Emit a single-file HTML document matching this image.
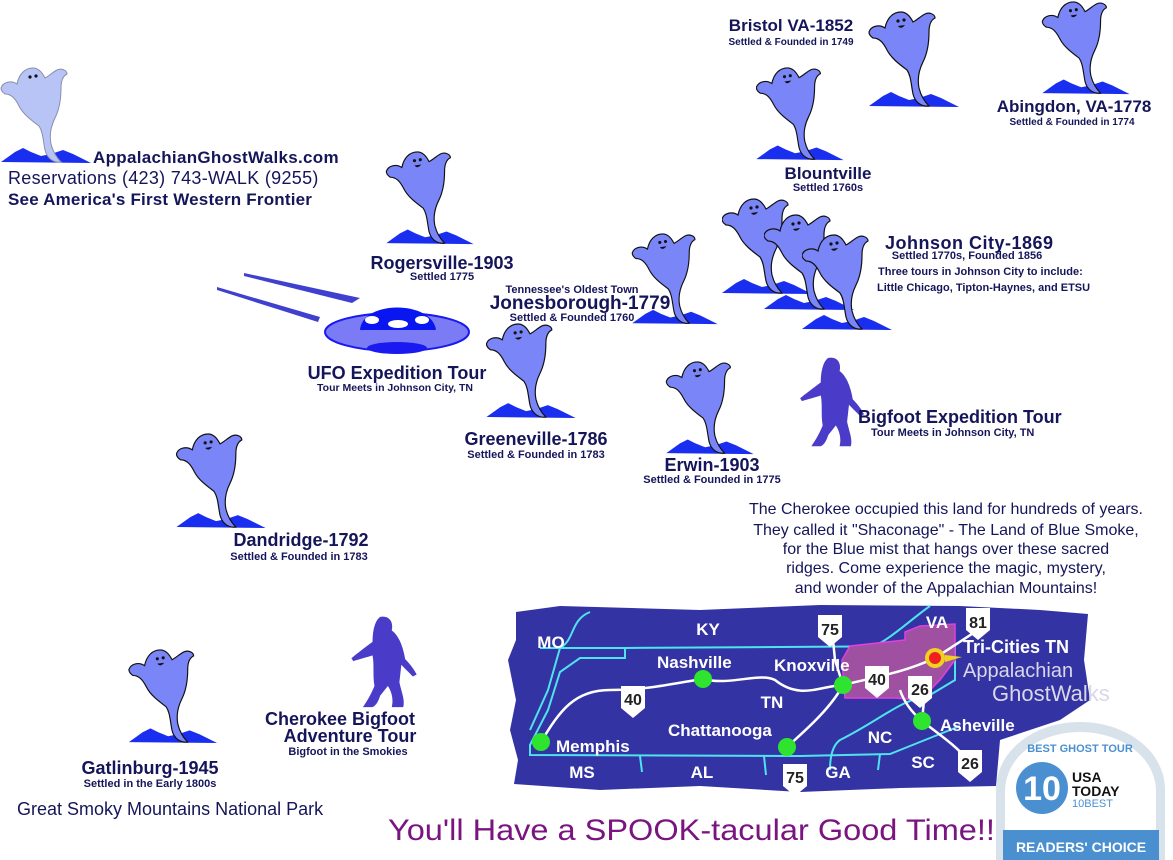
<!DOCTYPE html>
<html><head><meta charset="utf-8"><style>
html,body{margin:0;padding:0;background:#fff;}
svg{display:block;}
text{font-family:"Liberation Sans",sans-serif;fill:#15155a;font-weight:bold;}
.t{font-size:18px;text-anchor:middle;}
.s{font-size:11px;text-anchor:middle;}
.m{fill:#fff;font-size:17px;font-weight:bold;}
.st{fill:#fff;font-size:17px;font-weight:bold;text-anchor:middle;}
</style></head><body>
<svg width="1173" height="860" viewBox="0 0 1173 860" xmlns="http://www.w3.org/2000/svg">
<defs>
<symbol id="g" viewBox="0 0 90 100">
<path d="M0,96 L14,86 L22,82 L30,86 L40,90 L50,88 L62,84 L72,88 L90,97 Z" fill="#1a2ef0"/>
<path d="M0,22 C2,16 10,14 16,18 C18,8 24,2 32,2 C38,2 42,8 44,12 C48,10 52,6 56,4 C60,2 66,4 66,8 C62,10 60,14 60,22 C60,34 58,44 54,52 C50,60 48,68 50,78 C52,86 56,92 60,96 C52,97 46,92 44,84 C42,74 42,66 38,60 C30,54 22,48 18,40 C14,32 10,28 4,28 C1,26 0,24 0,22 Z" fill="#7a86f8" stroke="#111" stroke-width="1.2"/>
<circle cx="29" cy="11" r="1.6" fill="#111"/><circle cx="35" cy="10" r="1.6" fill="#111"/>
<path d="M29,16 Q32,20 36,15" fill="#111"/>
</symbol>
<symbol id="gl" viewBox="0 0 90 100">
<path d="M0,96 L14,86 L22,82 L30,86 L40,90 L50,88 L62,84 L72,88 L90,97 Z" fill="#1a2ef0"/>
<path d="M0,22 C2,16 10,14 16,18 C18,8 24,2 32,2 C38,2 42,8 44,12 C48,10 52,6 56,4 C60,2 66,4 66,8 C62,10 60,14 60,22 C60,34 58,44 54,52 C50,60 48,68 50,78 C52,86 56,92 60,96 C52,97 46,92 44,84 C42,74 42,66 38,60 C30,54 22,48 18,40 C14,32 10,28 4,28 C1,26 0,24 0,22 Z" fill="#b8c4f6" stroke="#8890aa" stroke-width="1"/>
<circle cx="29" cy="11" r="1.6" fill="#111"/><circle cx="35" cy="10" r="1.6" fill="#111"/>
</symbol>
<symbol id="bf" viewBox="0 0 70 100">
<path d="M30,2 C40,0 44,8 42,16 C50,22 54,34 56,46 C62,52 66,58 68,62 L64,64 C58,58 54,54 52,52 L50,70 C52,80 56,88 54,96 L42,96 C44,88 42,80 38,74 L30,84 C28,90 26,94 22,96 L12,96 C16,90 20,84 24,74 C22,62 24,52 22,42 C16,44 8,46 2,48 L0,45 C6,40 14,34 22,28 C22,18 24,6 30,2 Z" fill="#4a3cc8"/>
</symbol>
</defs>

<use href="#gl" x="0" y="66" width="92" height="100"/>
<use href="#g" x="385" y="150" width="90" height="97"/>
<use href="#g" x="868" y="10" width="92" height="100"/>
<use href="#g" x="1040" y="0" width="92" height="97"/>
<use href="#g" x="756" y="66" width="88" height="97"/>
<use href="#g" x="722" y="197" width="90" height="100"/>
<use href="#g" x="764" y="213" width="90" height="100"/>
<use href="#g" x="802" y="233" width="90" height="100"/>
<use href="#g" x="630" y="232" width="90" height="95"/>
<use href="#g" x="486" y="322" width="90" height="99"/>
<use href="#g" x="665" y="360" width="90" height="97"/>
<use href="#g" x="176" y="432" width="90" height="99"/>
<use href="#g" x="128" y="648" width="90" height="98"/>

<use href="#bf" x="800" y="356" width="66" height="94"/>
<use href="#bf" x="344" y="615" width="82" height="96"/>

<polygon points="244,273 360,298 352,303 244,276" fill="#4040d0"/>
<polygon points="217,287 320,317 318,322 217,290" fill="#4040d0"/>
<ellipse cx="397" cy="332" rx="72" ry="19" fill="#7b7bf6" stroke="#1a1af0" stroke-width="2"/>
<path d="M360,330 C362,300 432,300 436,330 Z" fill="#0a16f0"/>
<ellipse cx="397" cy="348" rx="30" ry="6" fill="#1a1af0"/>
<ellipse cx="372" cy="320" rx="7" ry="4" fill="#fff"/><ellipse cx="398" cy="324" rx="10" ry="4" fill="#fff"/><ellipse cx="422" cy="320" rx="7" ry="4" fill="#fff"/>

<text x="93" y="163" style="font-size:17px;letter-spacing:0.3px">AppalachianGhostWalks.com</text>
<text x="8" y="184" style="font-size:18px;font-weight:normal;letter-spacing:0.3px">Reservations (423) 743-WALK (9255)</text>
<text x="8" y="205" style="font-size:17px;letter-spacing:0.2px">See America's First Western Frontier</text>

<text class="t" x="791" y="31" style="font-size:17px">Bristol VA-1852</text>
<text class="s" x="791" y="45" style="font-size:10px">Settled &amp; Founded in 1749</text>
<text class="t" x="1074" y="112" style="font-size:17px">Abingdon, VA-1778</text>
<text class="s" x="1072" y="125" style="font-size:10px">Settled &amp; Founded in 1774</text>
<text class="t" x="828" y="179" style="font-size:17px">Blountville</text>
<text class="s" x="828" y="191">Settled 1760s</text>
<text x="885" y="249" style="font-size:18px;letter-spacing:0.5px">Johnson City-1869</text>
<text class="s" x="967" y="259">Settled 1770s, Founded 1856</text>
<text x="878" y="275" style="font-size:11px">Three tours in Johnson City to include:</text>
<text x="877" y="291" style="font-size:11px">Little Chicago, Tipton-Haynes, and ETSU</text>
<text class="t" x="442" y="269">Rogersville-1903</text>
<text class="s" x="442" y="280">Settled 1775</text>
<text class="s" x="572" y="293">Tennessee's Oldest Town</text>
<text class="t" x="580" y="309" style="font-size:19px">Jonesborough-1779</text>
<text class="s" x="572" y="321">Settled &amp; Founded 1760</text>
<text class="t" x="397" y="379">UFO Expedition Tour</text>
<text class="s" x="395" y="391" style="font-size:10.5px">Tour Meets in Johnson City, TN</text>
<text class="t" x="536" y="445">Greeneville-1786</text>
<text class="s" x="536" y="458">Settled &amp; Founded in 1783</text>
<text class="t" x="712" y="471">Erwin-1903</text>
<text class="s" x="712" y="483">Settled &amp; Founded in 1775</text>
<text x="858" y="423" style="font-size:18px">Bigfoot Expedition Tour</text>
<text x="871" y="436" style="font-size:11px">Tour Meets in Johnson City, TN</text>
<g style="font-size:16px;text-anchor:middle">
<text x="946" y="514" style="font-weight:normal">The Cherokee occupied this land for hundreds of years.</text>
<text x="946" y="535" style="font-weight:normal">They called it "Shaconage" - The Land of Blue Smoke,</text>
<text x="946" y="554" style="font-weight:normal">for the Blue mist that hangs over these sacred</text>
<text x="946" y="573" style="font-weight:normal">ridges. Come experience the magic, mystery,</text>
<text x="946" y="593" style="font-weight:normal">and wonder of the Appalachian Mountains!</text>
</g>
<text class="t" x="301" y="546">Dandridge-1792</text>
<text class="s" x="299" y="560">Settled &amp; Founded in 1783</text>
<text class="t" x="340" y="725">Cherokee Bigfoot</text>
<text class="t" x="350" y="742">Adventure Tour</text>
<text class="s" x="348" y="755">Bigfoot in the Smokies</text>
<text class="t" x="150" y="774">Gatlinburg-1945</text>
<text class="s" x="150" y="787">Settled in the Early 1800s</text>
<text x="17" y="815" style="font-size:18px;font-weight:normal">Great Smoky Mountains National Park</text>
<text x="388" y="840" textLength="616" lengthAdjust="spacingAndGlyphs" style="font-family:'Liberation Sans Narrow','Liberation Sans',sans-serif;font-size:30px;font-weight:normal;fill:#7a1480">You'll Have a SPOOK-tacular Good Time!!!</text>

<!-- map -->
<path d="M516,612 L560,606 L700,610 L820,605 L960,606 L1040,610 L1088,614 L1084,660 L1090,700 L1060,720 L1000,740 L996,786 L900,788 L800,792 L700,786 L600,790 L514,784 L518,760 L510,730 L516,700 L508,660 L516,640 Z" fill="#3333a3"/>
<g fill="none" stroke="#4fe3f0" stroke-width="2">
<path d="M540,648 L625,648 L625,658 L580,658 L560,672 L548,710 L530,745 L530,755 L800,756 L890,754 L920,742 L960,726"/>
<path d="M625,648 L920,646 L955,646 L955,680 L930,695"/>
<path d="M590,612 C570,620 575,640 560,648 L548,690 L530,730"/>
<path d="M930,606 C910,620 890,640 870,648"/>
<path d="M930,695 C900,700 880,720 840,740 C833,745 830,755 830,770"/>
<path d="M640,756 L642,772 M764,756 L766,775 M880,754 L878,770"/>
</g>
<path d="M905,632 L920,626 L955,624 L955,660 L940,680 L920,700 L895,698 L845,698 L842,660 L850,646 L905,640 Z" fill="#a050a0" stroke="#e040e0" stroke-width="1.5"/>
<g fill="none" stroke="#fff" stroke-width="2.5">
<path d="M541,742 C560,710 575,690 610,690 C650,690 680,682 703,679 C730,686 760,672 775,680 C800,700 820,686 843,685 C880,676 905,672 935,658 L978,630"/>
<path d="M843,685 C830,710 800,735 787,747"/>
<path d="M843,685 L835,660 L832,630"/>
<path d="M900,690 C905,705 915,715 922,721 C940,735 955,745 968,760"/>
<path d="M922,721 L925,690"/>
</g>
<g fill="#2ee42e"><circle cx="541" cy="742" r="9"/><circle cx="703" cy="679" r="9"/><circle cx="843" cy="685" r="9"/><circle cx="787" cy="747" r="9"/><circle cx="922" cy="721" r="9"/></g>
<circle cx="935" cy="658" r="10" fill="#f0d020"/><circle cx="935" cy="658" r="6" fill="#f02020"/>
<polygon points="945,655 962,657 945,662" fill="#f0d020"/>
<g>
<path d="M818,615 h24 v22 l-12,10 l-12,-10 Z" fill="#fff"/><text x="830" y="635" style="font-size:16px;text-anchor:middle;fill:#222">75</text>
<path d="M966,608 h24 v22 l-12,10 l-12,-10 Z" fill="#fff"/><text x="978" y="628" style="font-size:16px;text-anchor:middle;fill:#222">81</text>
<path d="M621,686 h24 v22 l-12,10 l-12,-10 Z" fill="#fff"/><text x="633" y="705" style="font-size:16px;text-anchor:middle;fill:#222">40</text>
<path d="M865,666 h24 v22 l-12,10 l-12,-10 Z" fill="#fff"/><text x="877" y="685" style="font-size:16px;text-anchor:middle;fill:#222">40</text>
<path d="M908,676 h24 v22 l-12,10 l-12,-10 Z" fill="#fff"/><text x="920" y="695" style="font-size:16px;text-anchor:middle;fill:#222">26</text>
<path d="M783,764 h24 v22 l-12,10 l-12,-10 Z" fill="#fff"/><text x="795" y="783" style="font-size:16px;text-anchor:middle;fill:#222">75</text>
<path d="M958,750 h24 v22 l-12,10 l-12,-10 Z" fill="#fff"/><text x="970" y="769" style="font-size:16px;text-anchor:middle;fill:#222">26</text>
</g>
<text class="st" x="551" y="648">MO</text><text class="st" x="708" y="635">KY</text><text class="st" x="937" y="628">VA</text>
<text class="st" x="772" y="708">TN</text><text class="st" x="880" y="743">NC</text><text class="st" x="923" y="768">SC</text>
<text class="st" x="582" y="778">MS</text><text class="st" x="702" y="778">AL</text><text class="st" x="838" y="778">GA</text>
<text class="m" x="657" y="668">Nashville</text><text class="m" x="774" y="671">Knoxville</text>
<text class="m" x="668" y="736">Chattanooga</text><text class="m" x="556" y="752">Memphis</text>
<text class="m" x="940" y="731">Asheville</text><text class="m" x="963" y="653" style="font-size:18px">Tri-Cities TN</text>
<text x="963" y="677" style="font-family:'Liberation Sans Narrow',sans-serif;font-size:20px;font-weight:normal;fill:#d8d8e8">Appalachian</text>
<text x="992" y="701" style="font-family:'Liberation Sans Narrow',sans-serif;font-size:22px;font-weight:normal;fill:#d8d8e8">GhostWalks</text>

<!-- badge -->
<path d="M996,860 L996,790 C996,750 1035,722 1080,722 C1125,722 1165,750 1165,790 L1165,860 Z" fill="#d8e2ea"/>
<path d="M1005,860 L1005,792 C1005,756 1040,732 1080,732 C1120,732 1156,756 1156,792 L1156,860 Z" fill="#fff"/>
<text x="1080" y="752" style="font-size:11px;fill:#4a90d0;text-anchor:middle">BEST GHOST TOUR</text>
<circle cx="1042" cy="788" r="26" fill="#4a90d0"/>
<text x="1042" y="800" style="font-size:34px;fill:#fff;text-anchor:middle">10</text>
<text x="1072" y="782" style="font-size:14px;fill:#111">USA</text>
<text x="1072" y="796" style="font-size:14px;fill:#111">TODAY</text>
<text x="1072" y="807" style="font-size:11px;font-weight:normal;fill:#4a90d0">10BEST</text>
<rect x="1003" y="830" width="156" height="30" fill="#4a90d0"/>
<text x="1081" y="852" style="font-size:14px;fill:#fff;text-anchor:middle">READERS' CHOICE</text>
</svg>
</body></html>
